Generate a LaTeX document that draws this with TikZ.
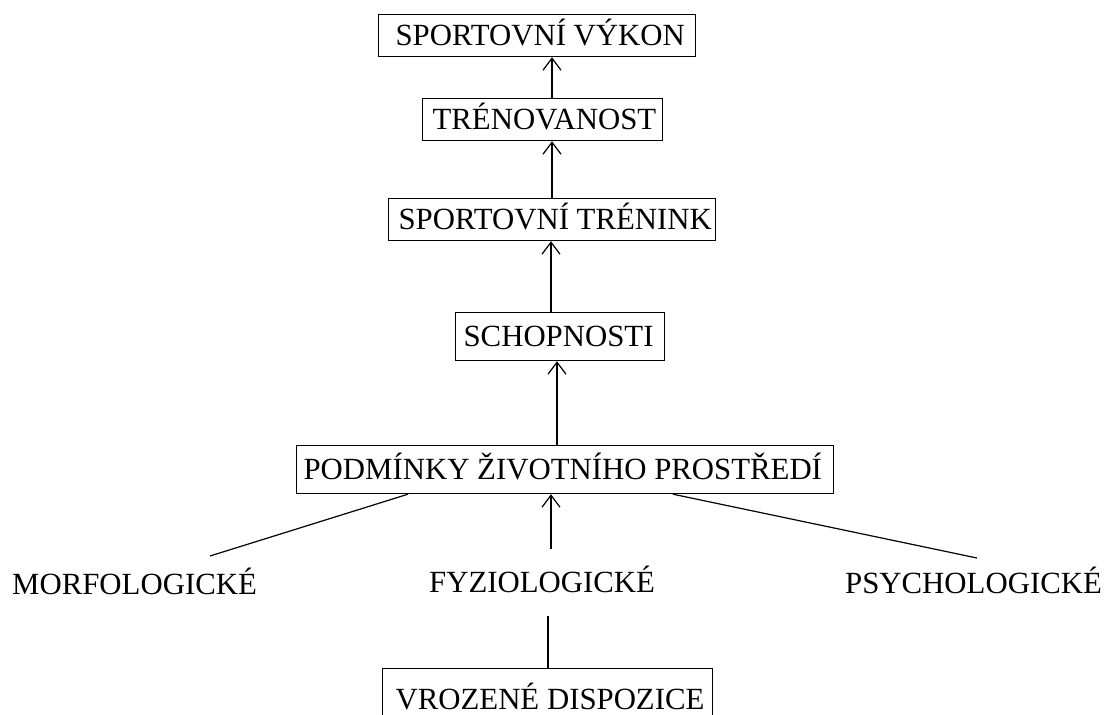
\documentclass[tikz,border=0pt]{standalone}
\usepackage{fontspec}
\setmainfont{Liberation Serif}
\usetikzlibrary{arrows.meta}
\begin{document}
\begin{tikzpicture}[x=1pt,y=-1pt,
  txt/.style={font=\fontsize{30.8}{36}\selectfont},
  box/.style={txt, draw, line width=1.2pt, rectangle, anchor=north west, inner sep=0pt,
    text height=20.4pt, text depth=0pt},
  lbl/.style={txt, anchor=base west, inner sep=0pt},
  arr/.style={-{Straight Barb[length=12pt,width=18pt]}, line width=1.2pt},
  ln/.style={line width=1.2pt}]
\clip (0,0) rectangle (1106,715);
\useasboundingbox (0,0) rectangle (1106,715);
\fill[white] (0,0) rectangle (1106,715);

\node[box, minimum height=42pt] (b1) at (378,14) {\makebox[317pt][l]{\hspace{17pt}SPORTOVNÍ VÝKON}};
\node[box, minimum height=42pt] (b2) at (422,98) {\makebox[240pt][l]{\hspace{10pt}TRÉNOVANOST}};
\node[box, minimum height=42pt] (b3) at (388,198) {\makebox[327pt][l]{\hspace{10pt}SPORTOVNÍ TRÉNINK}};
\node[box, minimum height=48pt] (b4) at (455,312) {\makebox[209pt][l]{\hspace{8pt}SCHOPNOSTI}};
\node[box, minimum height=48pt] (b5) at (296,445) {\makebox[537pt][l]{\hspace{7pt}PODMÍNKY ŽIVOTNÍHO PROSTŘEDÍ}};
\node[box, minimum height=62pt] (b6) at (382,668) {\makebox[330pt][l]{\hspace{13pt}VROZENÉ DISPOZICE}};

\node[lbl] (morf) at (12,594) {MORFOLOGICKÉ};
\node[lbl] (fyz) at (429,592) {FYZIOLOGICKÉ};
\node[lbl] (psy) at (845,593) {PSYCHOLOGICKÉ};

\coordinate (xa) at (552,0);
\coordinate (xb) at (551,0);
\coordinate (xc) at (557,0);
\coordinate (xl) at (408,0);
\coordinate (xr) at (673,0);
\coordinate (xd) at (548,0);
\coordinate (fup) at (551,549);
\coordinate (fdn) at (548,616);
\coordinate (mend) at (210,556);
\coordinate (pend) at (977,558);

\draw[arr] (xa |- b2.north) -- (xa |- b1.south);
\draw[arr] (xa |- b3.north) -- (xa |- b2.south);
\draw[arr] (xb |- b4.north) -- (xb |- b3.south);
\draw[arr] (xc |- b5.north) -- (xc |- b4.south);
\draw[arr] (fup) -- (xb |- b5.south);
\draw[ln] (xl |- b5.south) -- (mend);
\draw[ln] (xr |- b5.south) -- (pend);
\draw[ln] (fdn) -- (xd |- b6.north);
\end{tikzpicture}
\end{document}
